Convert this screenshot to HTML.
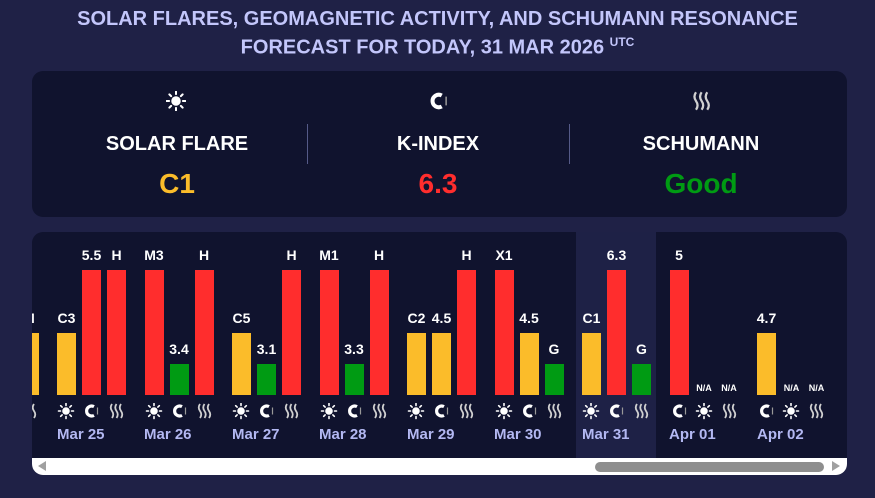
<!DOCTYPE html><html><head><meta charset="utf-8"><style>
body{margin:0;width:875px;height:498px;background:#1f2146;font-family:"Liberation Sans",sans-serif;position:relative;overflow:hidden}
.t{position:absolute;left:0;width:875px;text-align:center;color:#c3c6fb;font-weight:bold;font-size:20px}
.p{position:absolute;background:#10132e;border-radius:11px}
.h{position:absolute;color:#fff;font-weight:bold;font-size:20px;text-align:center;width:260px}
.v{position:absolute;font-weight:bold;font-size:28px;text-align:center;width:260px}
.sep{position:absolute;width:1px;height:40px;background:#555a88}
.b{position:absolute;width:19px}
.l{position:absolute;width:39px;text-align:center;color:#fff;font-weight:bold;font-size:14px;line-height:16px}
.n{position:absolute;width:39px;text-align:center;color:#fff;font-weight:bold;font-size:9px;top:151px}
.i{position:absolute;width:19px;height:17px;top:171px}
.d{position:absolute;color:#b3b8f2;font-weight:bold;font-size:15px;top:194px}
.R{background:#ff2d2d}.Y{background:#fbbc2a}.G{background:#009b13}
.T{top:38px;height:125px}.M{top:101px;height:62px}.S{top:132px;height:31px}
</style></head><body>
<div class="t" style="top:8px">SOLAR FLARES, GEOMAGNETIC ACTIVITY, AND SCHUMANN RESONANCE</div>
<div class="t" style="top:35px">FORECAST FOR TODAY, 31 MAR 2026 <sup style="font-size:12px">UTC</sup></div>
<svg width="0" height="0" style="position:absolute"><defs>
<g id="sun" fill="#fff" stroke="#fff" stroke-width="1.6" stroke-linecap="round"><circle cx="8" cy="8" r="3.8" stroke="none"/><path d="M8 0.5v2M8 13.5v2M0.5 8h2M13.5 8h2M2.7 2.7l1.4 1.4M11.9 11.9l1.4 1.4M2.7 13.3l1.4-1.4M11.9 4.1l1.4-1.4"/></g>
<g id="mag"><path d="M11 3.6A5 5 0 1 0 11 12.4" fill="none" stroke="#fff" stroke-width="3.2"/><path d="M14.5 4.5v7" stroke="#999" stroke-width="1.2"/></g>
<g id="sch" fill="none" stroke="#d0d0d0" stroke-width="1.8"><path d="M4 1q-2.5 3.5 0 7t0 7M8.5 1q-2.5 3.5 0 7t0 7M13 1q-2.5 3.5 0 7t0 7"/></g>
</defs></svg>
<div class="p" style="left:32px;top:71px;width:815px;height:146px">
<svg style="position:absolute;left:134px;top:20px" width="20" height="20" viewBox="0 0 16 16"><use href="#sun"/></svg>
<svg style="position:absolute;left:396px;top:20px" width="20" height="20" viewBox="0 0 16 16"><use href="#mag"/></svg>
<svg style="position:absolute;left:659px;top:20px" width="20" height="20" viewBox="0 0 16 16"><use href="#sch"/></svg>
<div class="h" style="left:15px;top:62px">SOLAR FLARE</div>
<div class="h" style="left:276px;top:62px">K-INDEX</div>
<div class="h" style="left:539px;top:62px">SCHUMANN</div>
<div class="v" style="left:15px;top:97px;color:#fbbc2a">C1</div>
<div class="v" style="left:276px;top:97px;color:#ff2d2d">6.3</div>
<div class="v" style="left:539px;top:97px;color:#009b13">Good</div>
<div class="sep" style="left:275px;top:53px"></div><div class="sep" style="left:537px;top:53px"></div>
</div>
<div class="p" style="left:32px;top:232px;width:815px;height:243px;overflow:hidden">
<div style="position:absolute;left:544px;top:0;width:80px;height:226px;background:#1e2146"></div>
<div class="b Y M" style="left:-12.5px"></div><div class="l" style="left:-22.5px;top:78px">M</div>
<svg class="i" style="left:-12.5px" viewBox="0 0 19 17"><use href="#sch" x="1"/></svg>

<div class="b Y M" style="left:25px"></div><div class="l" style="left:15px;top:78px">C3</div>
<div class="b R T" style="left:50px"></div><div class="l" style="left:40px;top:15px">5.5</div>
<div class="b R T" style="left:75px"></div><div class="l" style="left:65px;top:15px">H</div>
<svg class="i" style="left:25px"><use href="#sun" x="1"/></svg><svg class="i" style="left:50px"><use href="#mag" x="1"/></svg><svg class="i" style="left:75px"><use href="#sch" x="1"/></svg>
<div class="d" style="left:25px">Mar 25</div>

<div class="b R T" style="left:112.5px"></div><div class="l" style="left:102.5px;top:15px">M3</div>
<div class="b G S" style="left:137.5px"></div><div class="l" style="left:127.5px;top:109px">3.4</div>
<div class="b R T" style="left:162.5px"></div><div class="l" style="left:152.5px;top:15px">H</div>
<svg class="i" style="left:112.5px"><use href="#sun" x="1"/></svg><svg class="i" style="left:137.5px"><use href="#mag" x="1"/></svg><svg class="i" style="left:162.5px"><use href="#sch" x="1"/></svg>
<div class="d" style="left:112px">Mar 26</div>

<div class="b Y M" style="left:200px"></div><div class="l" style="left:190px;top:78px">C5</div>
<div class="b G S" style="left:225px"></div><div class="l" style="left:215px;top:109px">3.1</div>
<div class="b R T" style="left:250px"></div><div class="l" style="left:240px;top:15px">H</div>
<svg class="i" style="left:200px"><use href="#sun" x="1"/></svg><svg class="i" style="left:225px"><use href="#mag" x="1"/></svg><svg class="i" style="left:250px"><use href="#sch" x="1"/></svg>
<div class="d" style="left:200px">Mar 27</div>

<div class="b R T" style="left:287.5px"></div><div class="l" style="left:277.5px;top:15px">M1</div>
<div class="b G S" style="left:312.5px"></div><div class="l" style="left:302.5px;top:109px">3.3</div>
<div class="b R T" style="left:337.5px"></div><div class="l" style="left:327.5px;top:15px">H</div>
<svg class="i" style="left:287.5px"><use href="#sun" x="1"/></svg><svg class="i" style="left:312.5px"><use href="#mag" x="1"/></svg><svg class="i" style="left:337.5px"><use href="#sch" x="1"/></svg>
<div class="d" style="left:287px">Mar 28</div>

<div class="b Y M" style="left:375px"></div><div class="l" style="left:365px;top:78px">C2</div>
<div class="b Y M" style="left:400px"></div><div class="l" style="left:390px;top:78px">4.5</div>
<div class="b R T" style="left:425px"></div><div class="l" style="left:415px;top:15px">H</div>
<svg class="i" style="left:375px"><use href="#sun" x="1"/></svg><svg class="i" style="left:400px"><use href="#mag" x="1"/></svg><svg class="i" style="left:425px"><use href="#sch" x="1"/></svg>
<div class="d" style="left:375px">Mar 29</div>

<div class="b R T" style="left:462.5px"></div><div class="l" style="left:452.5px;top:15px">X1</div>
<div class="b Y M" style="left:487.5px"></div><div class="l" style="left:477.5px;top:78px">4.5</div>
<div class="b G S" style="left:512.5px"></div><div class="l" style="left:502.5px;top:109px">G</div>
<svg class="i" style="left:462.5px"><use href="#sun" x="1"/></svg><svg class="i" style="left:487.5px"><use href="#mag" x="1"/></svg><svg class="i" style="left:512.5px"><use href="#sch" x="1"/></svg>
<div class="d" style="left:462px">Mar 30</div>

<div class="b Y M" style="left:550px"></div><div class="l" style="left:540px;top:78px">C1</div>
<div class="b R T" style="left:575px"></div><div class="l" style="left:565px;top:15px">6.3</div>
<div class="b G S" style="left:600px"></div><div class="l" style="left:590px;top:109px">G</div>
<svg class="i" style="left:550px"><use href="#sun" x="1"/></svg><svg class="i" style="left:575px"><use href="#mag" x="1"/></svg><svg class="i" style="left:600px"><use href="#sch" x="1"/></svg>
<div class="d" style="left:550px">Mar 31</div>

<div class="b R T" style="left:637.5px"></div><div class="l" style="left:627.5px;top:15px">5</div>
<div class="n" style="left:652.5px">N/A</div><div class="n" style="left:677.5px">N/A</div>
<svg class="i" style="left:637.5px"><use href="#mag" x="1"/></svg><svg class="i" style="left:662.5px"><use href="#sun" x="1"/></svg><svg class="i" style="left:687.5px"><use href="#sch" x="1"/></svg>
<div class="d" style="left:637px">Apr 01</div>

<div class="b Y M" style="left:725px"></div><div class="l" style="left:715px;top:78px">4.7</div>
<div class="n" style="left:740px">N/A</div><div class="n" style="left:765px">N/A</div>
<svg class="i" style="left:725px"><use href="#mag" x="1"/></svg><svg class="i" style="left:750px"><use href="#sun" x="1"/></svg><svg class="i" style="left:775px"><use href="#sch" x="1"/></svg>
<div class="d" style="left:725px">Apr 02</div>

<div style="position:absolute;left:0;top:226px;width:815px;height:17px;background:#fff"></div>
<div style="position:absolute;left:6px;top:229px;width:0;height:0;border-top:5.5px solid transparent;border-bottom:5.5px solid transparent;border-right:8px solid #a0a0a0"></div>
<div style="position:absolute;left:800px;top:229px;width:0;height:0;border-top:5.5px solid transparent;border-bottom:5.5px solid transparent;border-left:8px solid #a0a0a0"></div>
<div style="position:absolute;left:563px;top:230px;width:229px;height:10px;border-radius:5px;background:#8e8e8e"></div>
</div>
</body></html>
